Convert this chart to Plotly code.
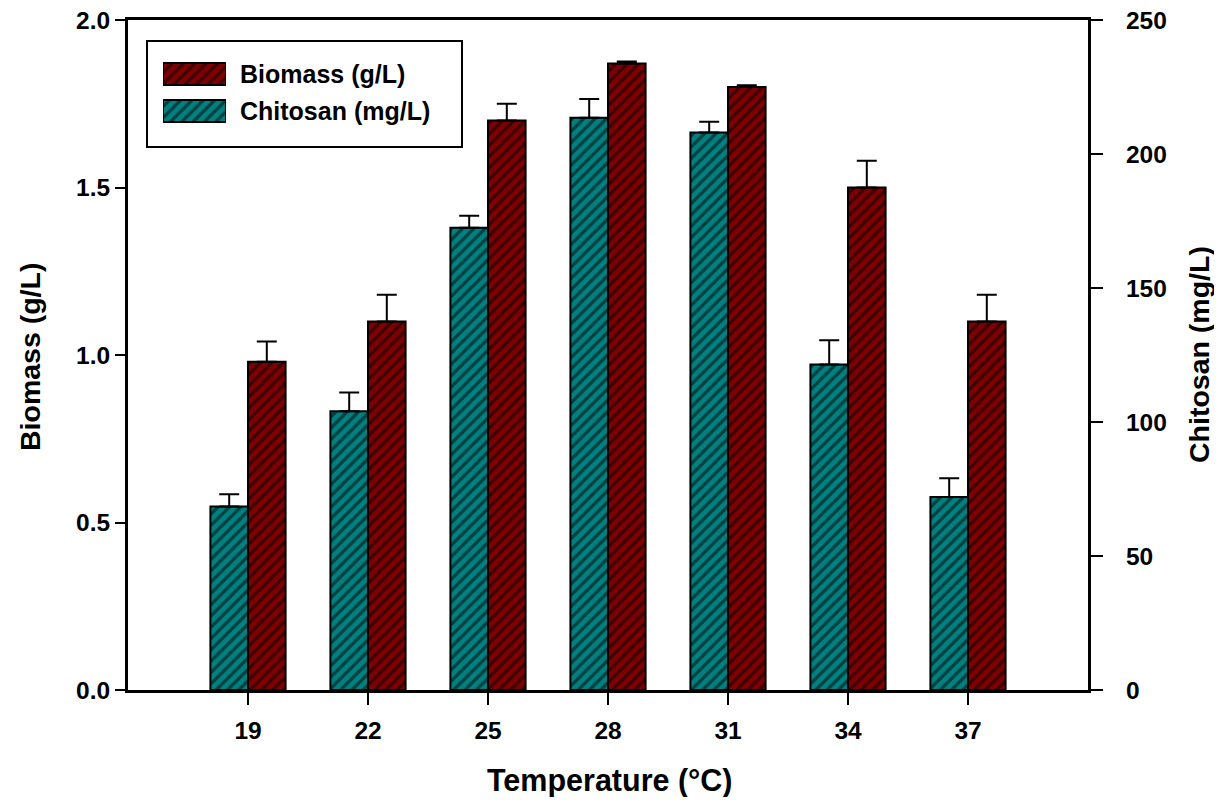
import plotly.graph_objects as go

temperature = [19, 22, 25, 28, 31, 34, 37]
biomass = [0.98, 1.10, 1.70, 1.87, 1.80, 1.50, 1.10]
biomass_err = [0.06, 0.08, 0.05, 0.006, 0.005, 0.08, 0.08]
chitosan = [68.5, 104, 172.5, 213.5, 208, 121.5, 72]
chitosan_err = [4.5, 7, 4.5, 7, 4, 9, 7]
series_names = ["Biomass (g/L)", "Chitosan (mg/L)"]

MAROON = "#7f0000"
TEAL = "#008080"
FONT = "Liberation Sans, Arial, sans-serif"
BW = 0.94

# page geometry (pixels in the 1222x805 window); the page body has an 8px margin
W, H = 1222, 805
OFF = 8
FW, FH = W - 2 * OFF, H - 2 * OFF
L, R, T, B = 128, 1088, 20, 690
PW, PH = R - L, B - T


def px(x):
    return (x - L) / PW


def py(y):
    return (B - y) / PH


def pattern(bg):
    return dict(shape="/", fgcolor="black", bgcolor=bg, size=8, solidity=0.4)


fig = go.Figure()
fig.add_trace(go.Bar(
    x=temperature, y=biomass, name=series_names[0], yaxis="y",
    width=BW, offset=0, showlegend=False,
    marker=dict(color=MAROON, line=dict(color="black", width=2), pattern=pattern(MAROON)),
    error_y=dict(type="data", array=biomass_err, arrayminus=[0]*7, symmetric=False,
                 color="black", thickness=2, width=10),
))
fig.add_trace(go.Bar(
    x=temperature, y=chitosan, name=series_names[1], yaxis="y2",
    width=BW, offset=-BW, showlegend=False,
    marker=dict(color=TEAL, line=dict(color="black", width=2), pattern=pattern(TEAL)),
    error_y=dict(type="data", array=chitosan_err, arrayminus=[0]*7, symmetric=False,
                 color="black", thickness=2, width=10),
))

# legend swatches (drawn as bars on a small hidden axis inside the legend box)
SW_TOP, SW_BOT = 50, 135
sw_span = SW_BOT - SW_TOP
legend_rows = [74, 111]  # pixel centers of legend rows
for name, color, yc in zip(series_names, [MAROON, TEAL], legend_rows):
    fig.add_trace(go.Bar(
        x=[1], y=[(SW_BOT - yc) / sw_span], orientation="h", width=22 / sw_span,
        xaxis="x3", yaxis="y3", showlegend=False, hoverinfo="skip",
        marker=dict(color=color, line=dict(color="black", width=2), pattern=pattern(color)),
    ))

tickfont = dict(family=FONT, size=24.5, color="black", weight="bold")
titlefont = dict(family=FONT, size=28.5, color="black", weight="bold")

annotations = [
    dict(text="Temperature (°C)", x=px(610), y=py(780), xref="paper", yref="paper",
         showarrow=False, font=dict(family=FONT, size=30.5, color="black", weight="bold"),
         xanchor="center", yanchor="middle"),
    dict(text="Biomass (g/L)", x=px(30), y=py(357), xref="paper", yref="paper",
         showarrow=False, font=titlefont, textangle=-90, xanchor="center", yanchor="middle"),
    dict(text="Chitosan (mg/L)", x=px(1199), y=py(355), xref="paper", yref="paper",
         showarrow=False, font=titlefont, textangle=-90, xanchor="center", yanchor="middle"),
]
for name, yc in zip(series_names, legend_rows):
    annotations.append(dict(text=name, x=px(238), y=py(yc), xref="paper", yref="paper",
                            showarrow=False, xanchor="left", yanchor="middle",
                            font=dict(family=FONT, size=25, color="black", weight="bold")))

axis_common = dict(showgrid=False, zeroline=False, showline=True, linecolor="black",
                   linewidth=3, ticks="outside", tickwidth=2, tickcolor="black",
                   tickfont=tickfont, automargin=False, ticklabeloverflow="allow")

fig.update_layout(
    width=FW, height=FH,
    margin=dict(l=L - OFF, r=W - OFF - R, t=T - OFF, b=H - OFF - B, pad=0),
    paper_bgcolor="white", plot_bgcolor="white",
    barmode="overlay",
    showlegend=False,
    xaxis=dict(range=[16, 40], tickvals=temperature, ticktext=[str(t) for t in temperature],
               mirror=True, ticklen=12, ticklabelstandoff=5, **axis_common),
    yaxis=dict(range=[0, 2.0], tickvals=[0, 0.5, 1.0, 1.5, 2.0], tickformat=".1f",
               ticklen=10, ticklabelstandoff=0, **axis_common),
    yaxis2=dict(range=[0, 250], tickvals=[0, 50, 100, 150, 200, 250], overlaying="y",
                side="right", ticklen=12, ticklabelstandoff=18, **axis_common),
    xaxis3=dict(domain=[px(163), px(226)], range=[0, 1], anchor="y3", visible=False,
                fixedrange=True),
    yaxis3=dict(domain=[py(SW_BOT), py(SW_TOP)], range=[0, 1], anchor="x3", visible=False,
                fixedrange=True),
    annotations=annotations,
    shapes=[dict(type="rect", xref="paper", yref="paper",
                 x0=px(147), x1=px(462), y0=py(147), y1=py(41),
                 line=dict(color="black", width=2), fillcolor="rgba(0,0,0,0)")],
)

fig.write_html("out.html")
